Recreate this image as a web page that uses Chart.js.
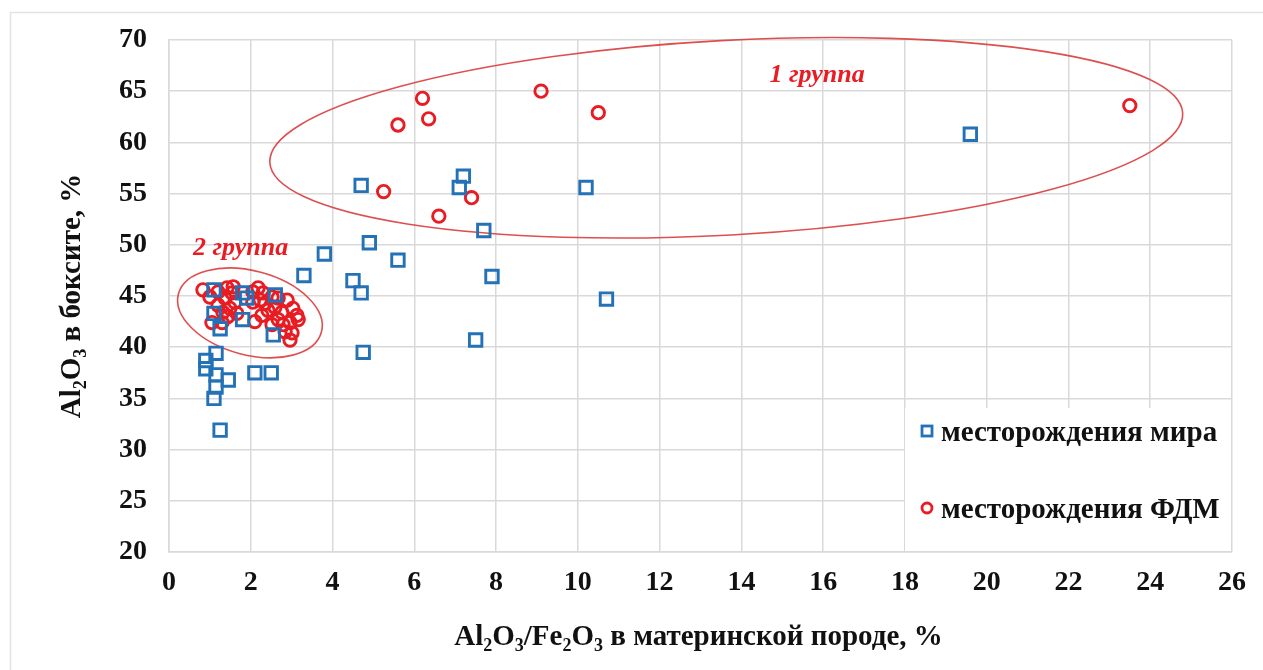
<!DOCTYPE html>
<html>
<head>
<meta charset="utf-8">
<script src="https://cdn.jsdelivr.net/npm/chart.js@4/dist/chart.umd.min.js"></script>
<style>
  html, body { margin: 0; padding: 0; background: #fff; }
  #wrap { width: 1263px; height: 670px; position: relative; }
</style>
</head>
<body>
<div id="wrap"><canvas id="chart"></canvas></div>
<script>
// месторождения мира
const worldX = [19.6, 4.7, 7.2, 7.1, 10.2, 7.7, 4.9, 3.8, 5.6, 3.3, 4.5, 4.7, 7.9, 10.7, 7.5, 4.75,
    2.55, 2.1, 2.5, 1.45, 1.25, 1.15, 0.9, 0.9, 1.15, 1.15, 1.1, 1.1, 1.8, 1.9, 2.6, 1.1, 1.25, 1.8];
const worldY = [60.8, 55.8, 56.7, 55.6, 55.6, 51.4, 50.2, 49.1, 48.5, 47.0, 46.5, 45.3, 46.9, 44.7, 40.7, 39.5,
    41.2, 37.5, 37.5, 36.8, 31.9, 39.4, 38.7, 37.9, 37.3, 36.1, 35.0, 45.6, 45.3, 44.8, 45.1, 43.3, 41.8, 42.7];

// месторождения ФДМ
const fdmX = [23.5, 9.1, 6.2, 5.6, 6.35, 10.5, 5.25, 7.4, 6.6,
    0.83, 1.0, 1.2, 1.42, 1.57, 1.54, 1.37, 1.2, 1.32, 1.49, 1.61, 1.66, 1.05, 1.3, 1.44,
    2.05, 2.18, 2.3, 2.05, 2.23, 2.35, 2.52, 2.67, 2.59, 2.42, 2.27, 2.1, 2.76, 2.89, 3.03,
    3.13, 3.16, 2.96, 2.79, 2.67, 2.52, 2.84, 3.01, 2.96];
const fdmY = [63.6, 65.0, 64.3, 61.7, 62.3, 62.9, 55.2, 54.6, 52.8,
    45.6, 44.9, 45.4, 45.8, 45.9, 45.3, 44.8, 44.1, 43.4, 43.8, 44.4, 43.3, 42.4, 42.4, 43.0,
    45.4, 45.8, 45.3, 44.4, 44.6, 44.3, 44.9, 44.8, 43.9, 43.6, 43.1, 42.5, 43.4, 44.6, 43.8,
    43.1, 42.7, 42.4, 42.2, 42.7, 42.2, 41.5, 41.4, 40.7];

const seriesNames = ['месторождения мира', 'месторождения ФДМ'];
const groupNames = ['1 группа', '2 группа'];
const xTitle = [['Al'], ['2', 1], ['O'], ['3', 1], ['/Fe'], ['2', 1], ['O'], ['3', 1], [' в материнской породе, %']];
const yTitle = [['Al'], ['2', 1], ['O'], ['3', 1], [' в боксите, %']];

const BLUE = '#2371b6';
const RED = '#e81c22';
const GRID = '#d9d9d9';
const SERIF = "'Liberation Serif', 'Times New Roman', serif";

function toPoints(xs, ys) {
    return xs.map((x, i) => ({ x: x, y: ys[i] }));
}

function drawRich(ctx, parts, cx, cy, size) {
    const big = 'bold ' + size + 'px ' + SERIF;
    const small = 'bold ' + Math.round(size * 0.62) + 'px ' + SERIF;
    let w = 0;
    parts.forEach(p => {
        ctx.font = p[1] ? small : big;
        w += ctx.measureText(p[0]).width;
    });
    let x = cx - w / 2;
    ctx.textBaseline = 'middle';
    ctx.textAlign = 'left';
    parts.forEach(p => {
        ctx.font = p[1] ? small : big;
        ctx.fillText(p[0], x, p[1] ? cy + size * 0.28 : cy);
        x += ctx.measureText(p[0]).width;
    });
}

const decorPlugin = {
    id: 'decor',
    beforeDraw(chart) {
        const ctx = chart.ctx;
        ctx.save();
        ctx.strokeStyle = '#e3e3e3';
        ctx.lineWidth = 1.5;
        ctx.strokeRect(10.5, 12.5, 1400, 800);
        ctx.restore();
    },
    beforeDatasetsDraw(chart) {
        const ctx = chart.ctx;
        const xs = chart.scales.x, ys = chart.scales.y;
        // ellipses around groups (centre in data units, radii in axis units)
        const ellipses = [
            { cx: 13.63, cy: 60.45, rx: 11.18, ry: 9.5, rot: -3.1 },
            { cx: 1.98, cy: 43.35, rx: 1.81, ry: 4.1, rot: 15 }
        ];
        ctx.save();
        ctx.strokeStyle = 'rgba(218, 60, 60, 0.9)';
        ctx.lineWidth = 1.6;
        ellipses.forEach(e => {
            const px = xs.getPixelForValue(e.cx);
            const py = ys.getPixelForValue(e.cy);
            const rx = xs.getPixelForValue(e.rx) - xs.getPixelForValue(0);
            const ry = ys.getPixelForValue(0) - ys.getPixelForValue(e.ry);
            ctx.beginPath();
            ctx.ellipse(px, py, rx, ry, e.rot * Math.PI / 180, 0, Math.PI * 2);
            ctx.stroke();
        });
        // legend box
        ctx.fillStyle = '#fff';
        ctx.fillRect(905, 408, chart.chartArea.right - 905 - 1, chart.chartArea.bottom - 408 - 1);
        ctx.restore();
    },
    afterDraw(chart) {
        const ctx = chart.ctx;
        const xs = chart.scales.x, ys = chart.scales.y;
        ctx.save();
        ctx.fillStyle = '#111';
        drawRich(ctx, xTitle, (chart.chartArea.left + chart.chartArea.right) / 2 - 2, 638, 29);
        ctx.translate(73, (chart.chartArea.top + chart.chartArea.bottom) / 2);
        ctx.rotate(-Math.PI / 2);
        drawRich(ctx, yTitle, 0, 0, 29);
        ctx.restore();

        // group labels
        ctx.save();
        ctx.fillStyle = RED;
        ctx.font = 'italic bold 26px ' + SERIF;
        ctx.textAlign = 'center';
        ctx.textBaseline = 'middle';
        ctx.fillText(groupNames[0], xs.getPixelForValue(15.85), ys.getPixelForValue(66.6));
        ctx.fillText(groupNames[1], xs.getPixelForValue(1.75), ys.getPixelForValue(49.7));
        ctx.restore();

        // legend
        ctx.save();
        ctx.lineWidth = 2.8;
        ctx.strokeStyle = BLUE;
        ctx.strokeRect(922, 426, 10, 10);
        ctx.strokeStyle = RED;
        ctx.beginPath();
        ctx.arc(927, 508, 5, 0, Math.PI * 2);
        ctx.stroke();
        ctx.fillStyle = '#111';
        ctx.font = 'bold 29px ' + SERIF;
        ctx.textAlign = 'left';
        ctx.textBaseline = 'middle';
        ctx.fillText(seriesNames[0], 941, 434);
        ctx.fillText(seriesNames[1], 941, 511);
        ctx.restore();
    }
};

new Chart(document.getElementById('chart'), {
    type: 'scatter',
    data: {
        datasets: [
            {
                label: seriesNames[0],
                data: toPoints(worldX, worldY),
                pointStyle: 'rect',
                pointRadius: 8.8,
                pointHoverRadius: 8.8,
                borderColor: BLUE,
                backgroundColor: 'rgba(0,0,0,0)',
                borderWidth: 2.9
            },
            {
                label: seriesNames[1],
                data: toPoints(fdmX, fdmY),
                pointStyle: 'circle',
                pointRadius: 6.2,
                pointHoverRadius: 6.2,
                borderColor: RED,
                backgroundColor: 'rgba(0,0,0,0)',
                borderWidth: 2.9
            }
        ]
    },
    options: {
        responsive: true,
        maintainAspectRatio: false,
        animation: false,
        layout: { padding: { left: 0, right: 31, top: 40, bottom: 0 } },
        plugins: {
            legend: { display: false },
            tooltip: { enabled: false }
        },
        scales: {
            x: {
                type: 'linear',
                min: 0,
                max: 26,
                ticks: {
                    stepSize: 2,
                    padding: 14,
                    color: '#111',
                    font: { family: SERIF, size: 28, weight: 'bold' }
                },
                grid: { color: GRID, lineWidth: 1.5, drawTicks: false },
                border: { color: GRID, width: 1.5 },
                afterFit(scale) { scale.height = 118; }
            },
            y: {
                type: 'linear',
                min: 20,
                max: 70,
                ticks: {
                    stepSize: 5,
                    padding: 22,
                    color: '#111',
                    font: { family: SERIF, size: 28, weight: 'bold' }
                },
                grid: { color: GRID, lineWidth: 1.5, drawTicks: false },
                border: { color: GRID, width: 1.5 },
                afterFit(scale) { scale.width = 169; }
            }
        }
    },
    plugins: [decorPlugin]
});
</script>
</body>
</html>
